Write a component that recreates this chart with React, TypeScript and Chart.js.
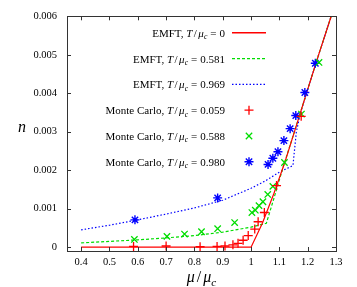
import React, { useEffect, useRef } from "react";
import { Chart, registerables } from "chart.js";

Chart.register(...registerables);

const X_TICKS = [0.4, 0.5, 0.6, 0.7, 0.8, 0.9, 1.0, 1.1, 1.2, 1.3];
const Y_TICKS = [0, 0.001, 0.002, 0.003, 0.004, 0.005, 0.006];

const EMFT0_X = [0.4, 1.0, 1.04, 1.08, 1.12, 1.16, 1.2, 1.24, 1.283];
const EMFT0_Y = [0, 0, 0.00062, 0.00138, 0.00222, 0.00316, 0.0041, 0.00503, 0.006];

const EMFT581_X = [0.4, 0.5, 0.6, 0.7, 0.8, 0.9, 1.0, 1.054, 1.08, 1.115, 1.16, 1.2, 1.24, 1.283];
const EMFT581_Y = [0.00011, 0.00015, 0.00019, 0.00024, 0.0003, 0.00039, 0.00052, 0.00062, 0.00125, 0.00212, 0.00316, 0.0041, 0.00503, 0.006];

const EMFT969_X = [0.4, 0.5, 0.6, 0.7, 0.8, 0.9, 1.0, 1.05, 1.1, 1.148, 1.16, 1.175, 1.2, 1.24, 1.283];
const EMFT969_Y = [0.00045, 0.00057, 0.00071, 0.00086, 0.00102, 0.00122, 0.00153, 0.00172, 0.00195, 0.00212, 0.003, 0.0035, 0.0041, 0.00503, 0.006];

const MC059_X = [0.585, 0.7, 0.82, 0.88, 0.908, 0.936, 0.954, 0.972, 0.99, 1.013, 1.025, 1.047, 1.09, 1.177];
const MC059_Y = [0.00002, 0.00003, 0.00001, 0.00002, 0.00003, 0.00006, 0.0001, 0.00018, 0.0003, 0.00047, 0.00066, 0.0009, 0.0016, 0.0034];

const MC588_X = [0.588, 0.703, 0.765, 0.825, 0.882, 0.942, 1.003, 1.015, 1.028, 1.042, 1.059, 1.077, 1.118, 1.178, 1.24];
const MC588_Y = [0.0002, 0.00028, 0.00034, 0.0004, 0.00048, 0.00064, 0.0009, 0.00096, 0.00108, 0.00118, 0.00137, 0.00158, 0.0022, 0.00346, 0.0048];

const MC980_X = [0.59, 0.882, 1.06, 1.077, 1.095, 1.116, 1.138, 1.158, 1.19, 1.227];
const MC980_Y = [0.00071, 0.00128, 0.00215, 0.00231, 0.00248, 0.00277, 0.00308, 0.00342, 0.00402, 0.00478];

const LEGEND_VALUES = ["0", "0.581", "0.969", "0.059", "0.588", "0.980"];
const LEGEND_PREFIX = ["EMFT, ", "EMFT, ", "EMFT, ", "Monte Carlo, ", "Monte Carlo, ", "Monte Carlo, "];

const RED = "#ff0000";
const GREEN = "#00dd00";
const BLUE = "#0000ff";
const SERIF = "'Liberation Serif', 'DejaVu Serif', serif";

const pts = (xs: number[], ys: number[]) => xs.map((x, i) => ({ x, y: ys[i] }));

type Part = { t: string; it?: boolean; sub?: boolean; gap?: number };

function richWidth(ctx: CanvasRenderingContext2D, parts: Part[], size: number) {
  let w = 0;
  for (const p of parts) {
    const s = p.sub ? size * 0.7 : size;
    ctx.font = `${p.it ? "italic " : ""}${s}px ${SERIF}`;
    w += (p.gap || 0) + ctx.measureText(p.t).width;
  }
  return w;
}

function drawRich(ctx: CanvasRenderingContext2D, parts: Part[], x: number, y: number, size: number) {
  let cx = x;
  ctx.textBaseline = "alphabetic";
  ctx.textAlign = "left";
  for (const p of parts) {
    const s = p.sub ? size * 0.7 : size;
    ctx.font = `${p.it ? "italic " : ""}${s}px ${SERIF}`;
    cx += p.gap || 0;
    ctx.fillText(p.t, cx, y + (p.sub ? size * 0.22 : 0));
    cx += ctx.measureText(p.t).width;
  }
}

function drawMarker(ctx: CanvasRenderingContext2D, style: string, x: number, y: number, r: number) {
  ctx.beginPath();
  if (style === "cross" || style === "star") {
    ctx.moveTo(x - r, y);
    ctx.lineTo(x + r, y);
    ctx.moveTo(x, y - r);
    ctx.lineTo(x, y + r);
  }
  if (style === "crossRot" || style === "star") {
    const d = r * Math.SQRT1_2;
    ctx.moveTo(x - d, y - d);
    ctx.lineTo(x + d, y + d);
    ctx.moveTo(x - d, y + d);
    ctx.lineTo(x + d, y - d);
  }
  ctx.stroke();
}

const framePlugin = {
  id: "frame",
  afterDraw(chart: any) {
    const ctx: CanvasRenderingContext2D = chart.ctx;
    const a = chart.chartArea;
    const xs = chart.scales.x;
    const ys = chart.scales.y;
    ctx.save();
    ctx.strokeStyle = "#333";
    ctx.lineWidth = 1;
    ctx.strokeRect(Math.round(a.left) + 0.5, Math.round(a.top) + 0.5, Math.round(a.right - a.left), Math.round(a.bottom - a.top));
    ctx.beginPath();
    const tl = 4;
    for (const v of X_TICKS) {
      const px = Math.round(xs.getPixelForValue(v)) + 0.5;
      ctx.moveTo(px, a.bottom);
      ctx.lineTo(px, a.bottom - tl);
      ctx.moveTo(px, a.top);
      ctx.lineTo(px, a.top + tl);
    }
    for (const v of Y_TICKS) {
      const py = Math.round(ys.getPixelForValue(v)) + 0.5;
      ctx.moveTo(a.left, py);
      ctx.lineTo(a.left + tl, py);
      ctx.moveTo(a.right, py);
      ctx.lineTo(a.right - tl, py);
    }
    ctx.stroke();

    // axis titles
    ctx.fillStyle = "#000";
    ctx.font = `italic 16px ${SERIF}`;
    ctx.textAlign = "center";
    ctx.textBaseline = "middle";
    ctx.fillText("n", 22, (a.top + a.bottom) / 2 - 6);

    const xt: Part[] = [{ t: "μ", it: true }, { t: "/", gap: 2 }, { t: "μ", it: true, gap: 2 }, { t: "c", it: true, sub: true }];
    const xw = richWidth(ctx, xt, 16);
    ctx.fillStyle = "#000";
    drawRich(ctx, xt, (a.left + a.right) / 2 - xw / 2, 282, 16);

    // legend
    const styles = [
      { kind: "line", color: RED, dash: [] as number[] },
      { kind: "line", color: GREEN, dash: [3, 2] },
      { kind: "line", color: BLUE, dash: [1.5, 2] },
      { kind: "cross", color: RED },
      { kind: "crossRot", color: GREEN },
      { kind: "star", color: BLUE },
    ];
    const textRight = a.left + 158;
    for (let i = 0; i < LEGEND_VALUES.length; i++) {
      const cy = a.top + 16.5 + i * 25.8;
      const parts: Part[] = [
        { t: LEGEND_PREFIX[i] },
        { t: "T", it: true },
        { t: "/", gap: 1.5 },
        { t: "μ", it: true, gap: 1.5 },
        { t: "c", it: true, sub: true },
        { t: "=", gap: 3 },
        { t: LEGEND_VALUES[i], gap: 3 },
      ];
      const w = richWidth(ctx, parts, 11);
      ctx.fillStyle = "#000";
      drawRich(ctx, parts, textRight - w, cy + 4, 11);
      const st: any = styles[i];
      if (st.kind === "line") {
        ctx.save();
        ctx.strokeStyle = st.color;
        ctx.lineWidth = 1.4;
        ctx.setLineDash(st.dash);
        ctx.beginPath();
        ctx.moveTo(textRight + 7, cy);
        ctx.lineTo(textRight + 41, cy);
        ctx.stroke();
        ctx.restore();
      } else {
        ctx.save();
        ctx.strokeStyle = st.color;
        ctx.lineWidth = st.kind === "star" ? 1.4 : 1.3;
        drawMarker(ctx, st.kind, textRight + 24, cy, 4.5);
        ctx.restore();
      }
    }
    ctx.restore();
  },
};

export default function App() {
  const ref = useRef<HTMLCanvasElement | null>(null);
  useEffect(() => {
    if (!ref.current) return;
    const lineDs = (label: string, xs: number[], ys: number[], color: string, dash: number[]) => ({
      label,
      data: pts(xs, ys),
      showLine: true,
      borderColor: color,
      backgroundColor: color,
      borderWidth: 1.2,
      borderDash: dash,
      pointRadius: 0,
      tension: 0,
      order: 2,
    });
    const ptDs = (label: string, xs: number[], ys: number[], color: string, style: string, bw: number) => ({
      label,
      data: pts(xs, ys),
      showLine: false,
      borderColor: color,
      backgroundColor: color,
      pointStyle: style,
      pointRadius: 4.5,
      pointBorderWidth: bw,
      borderWidth: bw,
      order: 1,
    });
    const chart = new Chart(ref.current, {
      type: "scatter",
      data: {
        datasets: [
          lineDs("EMFT 0", EMFT0_X, EMFT0_Y, RED, []),
          lineDs("EMFT 0.581", EMFT581_X, EMFT581_Y, GREEN, [3, 2]),
          lineDs("EMFT 0.969", EMFT969_X, EMFT969_Y, BLUE, [1.5, 2]),
          ptDs("MC 0.059", MC059_X, MC059_Y, RED, "cross", 1.3),
          ptDs("MC 0.588", MC588_X, MC588_Y, GREEN, "crossRot", 1.3),
          ptDs("MC 0.980", MC980_X, MC980_Y, BLUE, "star", 1.4),
        ] as any,
      },
      options: {
        animation: false,
        responsive: false,
        devicePixelRatio: 1,
        layout: { padding: { left: 0, right: 21, top: 13, bottom: 0 } },
        plugins: { legend: { display: false }, tooltip: { enabled: false } },
        scales: {
          x: {
            type: "linear",
            min: 0.35,
            max: 1.3,
            grid: { display: false, drawTicks: false },
            border: { display: false },
            afterBuildTicks: (s: any) => {
              s.ticks = X_TICKS.map((v) => ({ value: v }));
            },
            afterFit: (s: any) => {
              s.height = 36;
            },
            ticks: {
              padding: 5,
              color: "#000",
              font: { family: SERIF, size: 10.5 },
              maxRotation: 0,
              callback: (v: any) => String(Number(Number(v).toFixed(1))),
            },
          },
          y: {
            type: "linear",
            min: -0.0001,
            max: 0.006,
            grid: { display: false, drawTicks: false },
            border: { display: false },
            afterBuildTicks: (s: any) => {
              s.ticks = Y_TICKS.map((v) => ({ value: v }));
            },
            afterFit: (s: any) => {
              s.width = 67;
            },
            ticks: {
              padding: 10,
              color: "#000",
              font: { family: SERIF, size: 10.5 },
              callback: (v: any) => String(Number(Number(v).toFixed(3))),
            },
          },
        },
      } as any,
      plugins: [framePlugin],
    });
    return () => chart.destroy();
  }, []);
  return (
    <div style={{ position: "fixed", left: 0, top: 0, width: 357, height: 287, background: "#fff" }}>
      <canvas ref={ref} width={357} height={287} />
    </div>
  );
}
